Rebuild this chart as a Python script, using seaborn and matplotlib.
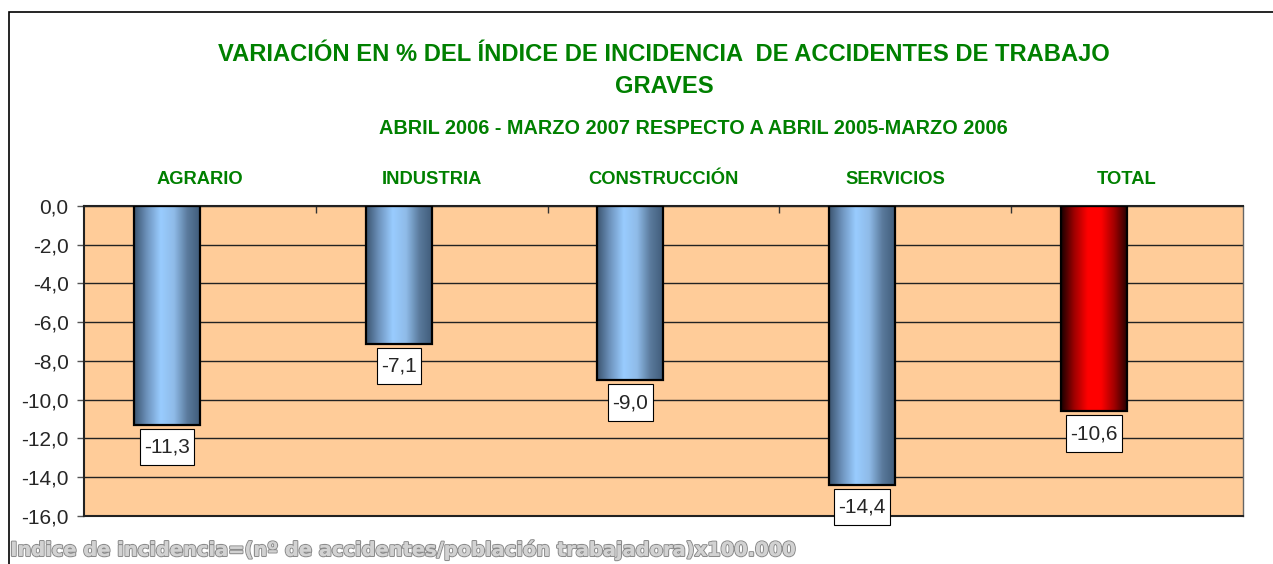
import numpy as np
import pandas as pd
import matplotlib
matplotlib.use("Agg")
import matplotlib.pyplot as plt
import matplotlib.patheffects as pe
from matplotlib.colors import LinearSegmentedColormap
from matplotlib.patches import Rectangle
from matplotlib.ticker import FuncFormatter, FixedLocator
import seaborn as sns

# datos
categorias = ["AGRARIO", "INDUSTRIA", "CONSTRUCCIÓN", "SERVICIOS", "TOTAL"]
variacion = [-11.3, -7.1, -9.0, -14.4, -10.6]
tipo = ["sector", "sector", "sector", "sector", "total"]
y_ticks = [0, -2, -4, -6, -8, -10, -12, -14, -16]

titulo = "VARIACIÓN EN % DEL ÍNDICE DE INCIDENCIA  DE ACCIDENTES DE TRABAJO\nGRAVES"
subtitulo = "ABRIL 2006 - MARZO 2007 RESPECTO A ABRIL 2005-MARZO 2006"
nota = "Indice de incidencia=(nº de accidentes/población trabajadora)x100.000"

df = pd.DataFrame({"categoria": categorias, "valor": variacion, "serie": "real"})

sns.set_style("white")
plt.rcParams["font.family"] = ["Liberation Sans", "DejaVu Sans"]

verde = "#008000"
fondo = "#ffcc99"

fig = plt.figure(figsize=(12.73, 5.64), dpi=100)
ax = fig.add_axes([0.066, 0.0851, 0.9104, 0.5497])
ax.set_facecolor(fondo)

# the excel chart had an empty second series, hence the offset bars
sns.barplot(data=df, x="categoria", y="valor", hue="serie", hue_order=["real", "vacio"],
            palette=["#99ccff", "#ffffff"], width=0.57, dodge=True, legend=False,
            edgecolor="black", linewidth=1.6, ax=ax, zorder=2)

cmaps = {
    "sector": LinearSegmentedColormap.from_list(
        "azul", ["#3b546f", "#6f95bf", "#99ccff", "#8fbbe8", "#5a7a9c", "#3f5a78"]),
    "total": LinearSegmentedColormap.from_list(
        "rojo", ["#1a0000", "#a00000", "#ff0000", "#ff0000", "#a00000", "#200000"]),
}
grad = np.linspace(0, 1, 256).reshape(1, -1)

barras = sorted([p for p in ax.patches if np.isfinite(p.get_height()) and p.get_height() != 0],
                key=lambda p: p.get_x())
for p, t, v in zip(barras, tipo, variacion):
    p.set_facecolor("none")
    p.set_zorder(3)
    x0 = p.get_x()
    x1 = x0 + p.get_width()
    im = ax.imshow(grad, cmap=cmaps[t], aspect="auto", extent=(x0, x1, v, 0),
                   zorder=2.5, interpolation="bicubic")
    im.set_clip_path(p)
    xc = x0 + p.get_width() / 2
    ax.annotate(f"{v:.1f}".replace(".", ","), xy=(xc, v), xytext=(0, -16),
                textcoords="offset points", ha="center", va="center", fontsize=15,
                bbox=dict(boxstyle="square,pad=0.2", fc="white", ec="black", lw=0.8,
                          mutation_aspect=2.1),
                zorder=5)

ax.set_xlim(-0.5, len(categorias) - 0.5)
ax.set_ylim(-16, 0)
ax.yaxis.set_major_locator(FixedLocator(y_ticks))
ax.yaxis.set_major_formatter(FuncFormatter(lambda v, pos: f"{v:.1f}".replace(".", ",")))
ax.tick_params(axis="y", which="major", direction="out", length=5, width=1,
               color="#555555", labelsize=15, left=True, pad=6)

ax.xaxis.tick_top()
ax.set_xticks(range(len(categorias)))
ax.set_xticklabels(categorias, fontsize=13.2, fontweight="bold", color=verde)
ax.tick_params(axis="x", which="major", length=0, pad=13)
ax.xaxis.set_minor_locator(FixedLocator(np.arange(0.5, len(categorias) - 1, 1)))
ax.tick_params(axis="x", which="minor", top=True, bottom=False, direction="in",
               length=5, width=1, color="#333333")
ax.set_xlabel("")
ax.set_ylabel("")

ax.set_axisbelow(True)
ax.yaxis.grid(True, color="#222222", linewidth=1)
ax.xaxis.grid(False)
for lado in ["top", "bottom", "left"]:
    ax.spines[lado].set_color("#222222")
    ax.spines[lado].set_linewidth(1.5)
ax.spines["right"].set_color("#666666")
ax.spines["right"].set_linewidth(1)

fig.text(0.5216, 0.875, titulo, ha="center", va="center", fontsize=17.1,
         fontweight="bold", color=verde, linespacing=1.5)
fig.text(0.5444, 0.772, subtitulo, ha="center", va="center", fontsize=14.3,
         fontweight="bold", color=verde)
fig.text(0.008, 0.025, nota, ha="left", va="center", fontsize=14, fontweight="bold",
         color="#d2d2d2", family="DejaVu Sans",
         path_effects=[pe.withStroke(linewidth=1.6, foreground="#8c8c8c"), pe.Normal()])

# marco exterior del grafico
fig.patches.append(Rectangle((9 / 1273, -0.1), 1.1, 1.1 - 12 / 564,
                             transform=fig.transFigure, fill=False, ec="black", lw=1.2))

fig.savefig("out.png", dpi=100)
